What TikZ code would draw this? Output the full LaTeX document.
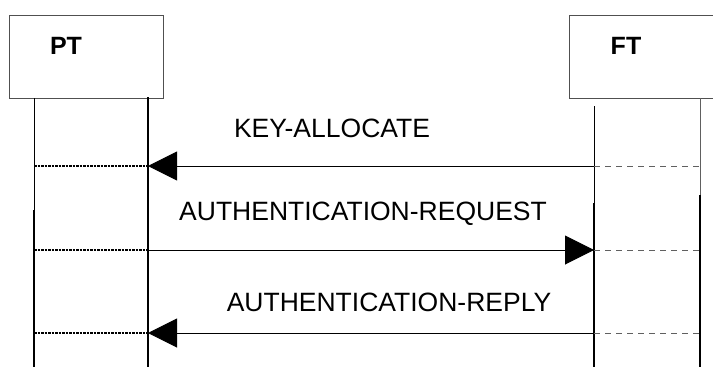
\documentclass[tikz,border=0pt]{standalone}
\usepackage{fontspec}
\setmainfont{Liberation Sans}
\usepackage{xcolor}
\usepackage{tikz}
\usetikzlibrary{arrows.meta, positioning, calc}
\definecolor{BoxGray}{HTML}{505050}
\definecolor{DashGray}{HTML}{606060}

\begin{document}
\begin{tikzpicture}[
    x=1pt, y=-1pt,
    entity/.style={rectangle, draw=BoxGray, line width=1.2pt, minimum width=154pt, minimum height=83pt, inner sep=0pt, anchor=north west},
    entname/.style={font=\fontsize{25}{28}\selectfont\bfseries, inner sep=0pt},
    msglabel/.style={font=\fontsize{26.5}{30}\selectfont, inner sep=0pt, anchor=base},
    life/.style={line width=1pt},
    lifethick/.style={line width=2.2pt},
    msg/.style={line width=1pt, -{Triangle[length=29pt, width=29pt]}},
    localdot/.style={line width=1.3pt, dash pattern=on 2.5pt off 1pt},
    peerdash/.style={line width=1pt, color=DashGray, dash pattern=on 6pt off 5pt}
]
    \useasboundingbox (0,0) rectangle (713,367);
    \clip (0,0) rectangle (713,367);

    % Entities
    \node[entity] (pt) at (9,15) {};
    \node[entity] (ft) at (569,15) {};
    \node[entname] (ptname) at (66,46) {PT};
    \node[entname] (ftname) at (626,46) {FT};

    % Lifeline ends
    \coordinate (ptL) at (34,98);
    \coordinate (ptR) at (148,97);
    \coordinate (ftL) at (594,106);
    \coordinate (ftR) at (700,98);
    \coordinate (bottom) at (0,367);

    % Lifelines
    \draw[life] (ptL) -- (ptL |- bottom);
    \draw[lifethick] (34,210) coordinate (ptLk) -- (ptLk |- bottom);
    \draw[lifethick] (ptR) -- (ptR |- bottom);
    \draw[life] (ftL) -- (ftL |- bottom);
    \draw[lifethick] (594,203) coordinate (ftLk) -- (ftLk |- bottom);
    \draw[life, color=DashGray] (ftR) -- (ftR |- bottom);
    \draw[lifethick] (700,195) coordinate (ftRk) -- (ftRk |- bottom);

    % Message rows
    \coordinate (row1) at (0,166);
    \coordinate (row2) at (0,250);
    \coordinate (row3) at (0,333);

    % Messages
    \node[msglabel] (keyalloc) at (332,137) {KEY-ALLOCATE};
    \node[msglabel] (authreq) at (363,220) {AUTHENTICATION-REQUEST};
    \node[msglabel] (authrep) at (389,311) {AUTHENTICATION-REPLY};
    \draw[msg] (ftL |- row1) -- (ptR |- row1);
    \draw[msg] (ptR |- row2) -- (ftL |- row2);
    \draw[msg] (ftL |- row3) -- (ptR |- row3);

    % Local and peer extensions
    \foreach \r in {row1, row2, row3} {
        \draw[localdot] (ptL |- \r) -- (ptR |- \r);
        \draw[peerdash] (ftL |- \r) -- (ftR |- \r);
    }
\end{tikzpicture}
\end{document}
